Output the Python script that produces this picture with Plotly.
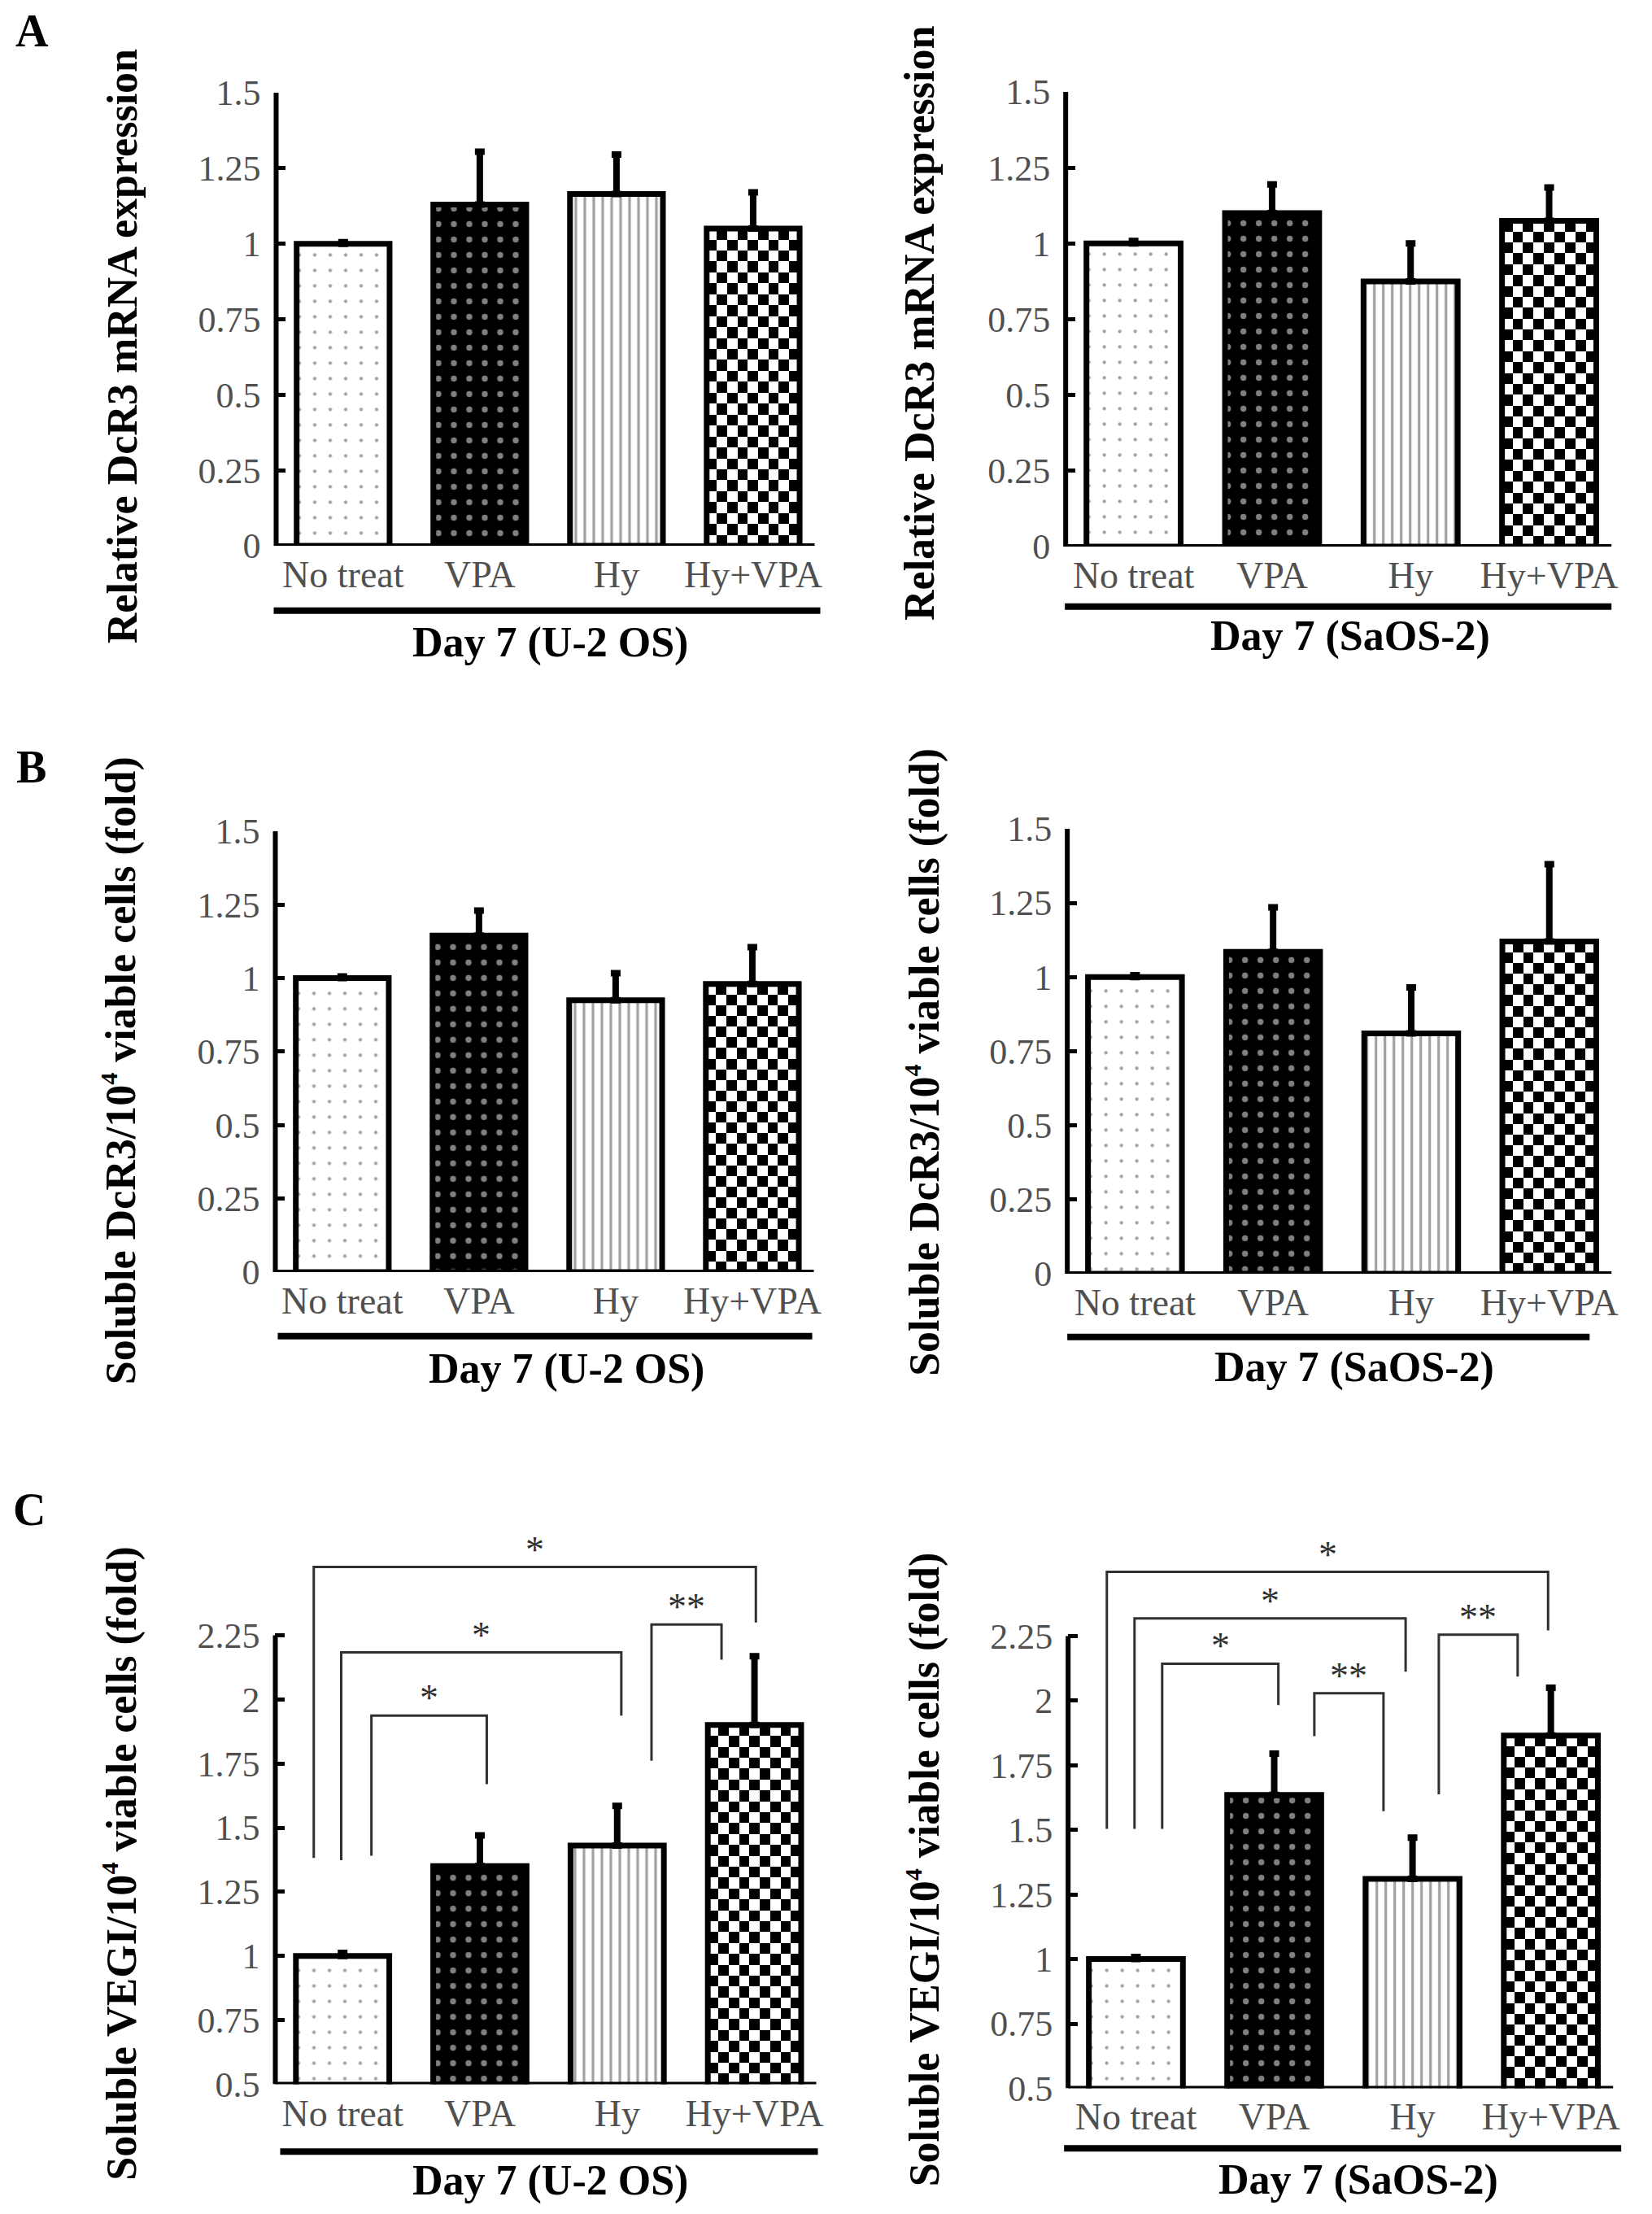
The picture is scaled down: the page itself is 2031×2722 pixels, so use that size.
import plotly.graph_objects as go

W, H = 2031, 2722
FONT = "Liberation Serif"
GREY = "#505050"
# the snapshot of the page comes out slightly squeezed vertically; measured offset/scale
Y_OFF, Y_SCALE = 23.7, 0.9854

# ---- data ----
categories = ["No treat", "VPA", "Hy", "Hy+VPA"]

a_u2os_mean = [1.00, 1.13, 1.165, 1.05]
a_u2os_err = [0.005, 0.175, 0.13, 0.12]
a_saos_mean = [1.00, 1.10, 0.875, 1.075]
a_saos_err = [0.008, 0.095, 0.125, 0.11]

b_u2os_mean = [1.00, 1.145, 0.925, 0.98]
b_u2os_err = [0.006, 0.085, 0.092, 0.125]
b_saos_mean = [1.00, 1.085, 0.81, 1.12]
b_saos_err = [0.006, 0.15, 0.155, 0.26]

c_u2os_mean = [1.00, 1.35, 1.43, 1.90]
c_u2os_err = [0.012, 0.12, 0.155, 0.268]
c_saos_mean = [1.00, 1.635, 1.31, 1.865]
c_saos_err = [0.008, 0.16, 0.16, 0.185]

# significance: (from bar, to bar, label)
c_u2os_sig = [(0, 1, "*"), (0, 2, "*"), (2, 3, "**"), (0, 3, "*")]
c_saos_sig = [(0, 1, "*"), (1, 2, "**"), (0, 2, "*"), (2, 3, "**"), (0, 3, "*")]

# bracket drawing: leg offsets from bar centre, top height, leg bottoms
c_u2os_geom = [(0.21, 0.05, 1.937, 1.391, 1.670),
               (-0.01, 0.03, 2.183, 1.373, 1.937),
               (0.25, -0.24, 2.292, 1.761, 2.155),
               (-0.21, 0.01, 2.516, 1.382, 2.300)]
c_saos_geom = [(0.19, 0.03, 2.143, 1.504, 1.983),
               (0.29, -0.21, 2.029, 1.863, 1.572),
               (-0.01, -0.05, 2.318, 1.504, 2.112),
               (0.19, -0.24, 2.255, 1.638, 2.093),
               (-0.21, -0.02, 2.498, 1.504, 2.272)]

SUP4 = "<sup><span style='font-size:30px'>4</span></sup>"
title_a = "Relative DcR3 mRNA expression"
title_b = "Soluble DcR3/10" + SUP4 + " viable cells (fold)"
title_c = "Soluble VEGI/10" + SUP4 + " viable cells (fold)"

ticks_ab = [0, 0.25, 0.5, 0.75, 1, 1.25, 1.5]
ticks_c = [0.5, 0.75, 1, 1.25, 1.5, 1.75, 2, 2.25]

panels = [
    dict(mean=a_u2os_mean, err=a_u2os_err, yt=title_a, xt="Day 7 (U-2 OS)", xpx=(341, 1006),
         bot=673, toptick=114, ymin=0, ytick_top=1.5, ymax=1.5, ticks=ticks_ab,
         ytpos=(152, 427), xtpos=(680, 792), ul=(338, 1013, 753)),
    dict(mean=a_saos_mean, err=a_saos_err, yt=title_a, xt="Day 7 (SaOS-2)", xpx=(1316, 1990),
         bot=674, toptick=113, ymin=0, ytick_top=1.5, ymax=1.5, ticks=ticks_ab,
         ytpos=(1135, 398), xtpos=(1667, 784), ul=(1315, 1990, 748)),
    dict(mean=b_u2os_mean, err=b_u2os_err, yt=title_b, xt="Day 7 (U-2 OS)", xpx=(340, 1005),
         bot=1569, toptick=1025, ymin=0, ytick_top=1.5, ymax=1.5, ticks=ticks_ab,
         ytpos=(149, 1320), xtpos=(700, 1688), ul=(343, 1003, 1648)),
    dict(mean=b_saos_mean, err=b_saos_err, yt=title_b, xt="Day 7 (SaOS-2)", xpx=(1318, 1990),
         bot=1571, toptick=1022, ymin=0, ytick_top=1.5, ymax=1.5, ticks=ticks_ab,
         ytpos=(1141, 1310), xtpos=(1672, 1686), ul=(1318, 1963, 1649)),
    dict(mean=c_u2os_mean, err=c_u2os_err, yt=title_c, xt="Day 7 (U-2 OS)", xpx=(340, 1008),
         bot=2571, toptick=2017, ymin=0.5, ytick_top=2.25, ymax=2.72, ticks=ticks_c,
         ytpos=(149, 2298), xtpos=(680, 2690), ul=(346, 1010, 2654),
         sig=c_u2os_sig, geom=c_u2os_geom),
    dict(mean=c_saos_mean, err=c_saos_err, yt=title_c, xt="Day 7 (SaOS-2)", xpx=(1319, 1992),
         bot=2576, toptick=2018, ymin=0.5, ytick_top=2.25, ymax=2.72, ticks=ticks_c,
         ytpos=(1141, 2306), xtpos=(1677, 2689), ul=(1314, 2002, 2650),
         sig=c_saos_sig, geom=c_saos_geom),
]

XR = [-0.49, 3.45]
BAR_W = 0.68
xs = list(range(len(categories)))


def px_x(p):
    return p / W


def px_y(p):
    return 1 - ((p - Y_OFF) / Y_SCALE) / H


fig = go.Figure()
shapes = []
annotations = []
layout_axes = {}

for i, p in enumerate(panels, start=1):
    xa = "x" if i == 1 else f"x{i}"
    ya = "y" if i == 1 else f"y{i}"
    ppu = (p["bot"] - p["toptick"]) / (p["ytick_top"] - p["ymin"])
    top_px = p["toptick"] - (p["ymax"] - p["ytick_top"]) * ppu

    layout_axes[f"xaxis{i}"] = dict(
        domain=[px_x(p["xpx"][0]), px_x(p["xpx"][1])], range=XR, anchor=ya,
        tickvals=xs, ticktext=categories, showline=False, showgrid=False, zeroline=False,
        ticks="", ticklabelstandoff=4, tickfont=dict(family=FONT, size=46, color=GREY))
    layout_axes[f"yaxis{i}"] = dict(
        domain=[px_y(p["bot"]), px_y(top_px)], range=[p["ymin"], p["ymax"]], anchor=xa,
        tickvals=p["ticks"], ticktext=[f"{v:g}" for v in p["ticks"]],
        showline=False, showgrid=False, zeroline=False,
        ticks="inside", ticklen=12, tickwidth=5, tickcolor="black",
        ticklabelstandoff=18, tickfont=dict(family=FONT, size=44, color=GREY))

    # checkerboard fill for the Hy+VPA bar
    ncol = 9
    dx = BAR_W / ncol
    h = p["mean"][3] - p["ymin"]
    nrow = max(1, round(h * ppu / 13.3))
    dy = h / nrow
    z = [[(r + c) % 2 for c in range(ncol)] for r in range(nrow)]
    fig.add_trace(go.Heatmap(
        z=z, x0=xs[3] - BAR_W / 2 + dx / 2, dx=dx, y0=p["ymin"] + dy / 2, dy=dy,
        colorscale=[[0, "white"], [1, "black"]], zmin=0, zmax=1, showscale=False,
        hoverinfo="skip", xaxis=xa, yaxis=ya))

    fig.add_trace(go.Bar(
        x=xs, y=p["mean"], width=BAR_W, xaxis=xa, yaxis=ya, showlegend=False,
        marker=dict(
            color=["white", "black", "white", "rgba(0,0,0,0)"],
            line=dict(color="black", width=7),
            pattern=dict(shape=[".", ".", "|", ""],
                         fgcolor=["#808080", "white", "black", "black"],
                         bgcolor=["white", "black", "white", "rgba(0,0,0,0)"],
                         size=[19, 19, 11, 10],
                         solidity=[0.04, 0.12, 0.3, 0.5])),
        error_y=dict(type="data", symmetric=False, array=p["err"],
                     arrayminus=[0] * len(categories),
                     color="black", thickness=8, width=6)))

    # axis lines
    shapes.append(dict(type="line", xref=f"{xa} domain", yref=ya, x0=0, x1=0,
                       y0=p["ymin"], y1=p["ytick_top"], line=dict(color="black", width=6)))
    shapes.append(dict(type="line", xref=f"{xa} domain", yref=ya, x0=0, x1=1,
                       y0=p["ymin"], y1=p["ymin"], line=dict(color="black", width=6)))
    # group underline
    shapes.append(dict(type="line", xref="paper", yref="paper",
                       x0=px_x(p["ul"][0]), x1=px_x(p["ul"][1]),
                       y0=px_y(p["ul"][2]), y1=px_y(p["ul"][2]),
                       line=dict(color="black", width=8)))

    annotations.append(dict(text="<b>" + p["yt"] + "</b>", xref="paper", yref="paper",
                            x=px_x(p["ytpos"][0]), y=px_y(p["ytpos"][1]),
                            textangle=-90, showarrow=False,
                            font=dict(family=FONT, size=52, color="black"),
                            xanchor="center", yanchor="middle"))
    annotations.append(dict(text="<b>" + p["xt"] + "</b>", xref="paper", yref="paper",
                            x=px_x(p["xtpos"][0]), y=px_y(p["xtpos"][1]), showarrow=False,
                            font=dict(family=FONT, size=52, color="black"),
                            xanchor="center", yanchor="middle"))

    # significance brackets
    for (a, b, lab), (da, db, top, ya0, yb0) in zip(p.get("sig", []), p.get("geom", [])):
        xa0 = xs[a] + da
        xb0 = xs[b] + db
        shapes.append(dict(type="path", xref=xa, yref=ya,
                           path=f"M{xa0},{ya0} L{xa0},{top} L{xb0},{top} L{xb0},{yb0}",
                           line=dict(color="#303030", width=3)))
        annotations.append(dict(text=lab, xref=xa, yref=ya, x=(xa0 + xb0) / 2, y=top,
                                showarrow=False, xanchor="center", yanchor="bottom",
                                yshift=-6, font=dict(family=FONT, size=46, color="#303030")))

for letter, (lx, ly) in zip(["A", "B", "C"], [(40, 38), (39, 946), (36, 1862)]):
    annotations.append(dict(text=f"<b>{letter}</b>", xref="paper", yref="paper",
                            x=px_x(lx), y=px_y(ly), showarrow=False,
                            xanchor="center", yanchor="middle",
                            font=dict(family=FONT, size=56, color="black")))

fig.update_layout(
    width=W, height=H, margin=dict(l=0, r=0, t=0, b=0),
    paper_bgcolor="white", plot_bgcolor="white", showlegend=False,
    font=dict(family=FONT), bargap=0.3,
    shapes=shapes, annotations=annotations, **layout_axes)

fig.write_html("out.html", config={"displayModeBar": False},
               post_script="document.body.style.margin='0';document.body.style.overflow='hidden';")
